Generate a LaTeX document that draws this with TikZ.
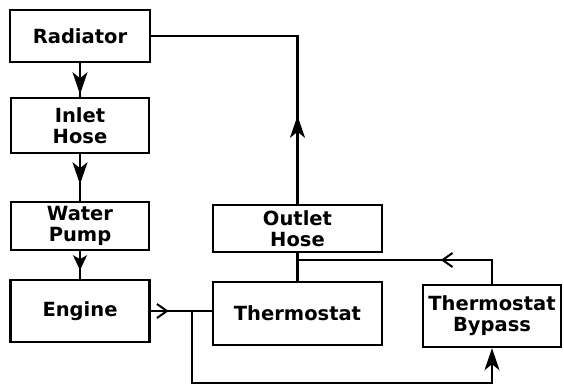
\documentclass[tikz,border=0pt]{standalone}
\usepackage{fontspec}
\setmainfont{DejaVu Sans}
\usetikzlibrary{arrows.meta,decorations.markings}
\tikzset{
  fillhead/.tip={Stealth[length=22pt,width=15pt,inset=6pt]},
  fillsmall/.tip={Stealth[length=15pt,width=14pt,inset=4pt]},
  openhead/.tip={Straight Barb[length=10pt,width=14pt,line width=2pt]}
}
\begin{document}
\begin{tikzpicture}[x=1pt,y=-1pt,
  box/.style={draw, line width=2.4pt, align=center, inner sep=0pt,
    font=\bfseries\fontsize{19.5}{21}\selectfont},
  conn/.style={line width=2.2pt},
  midfill/.style={postaction={decorate},decoration={markings,
    mark=at position #1 with {\arrow{fillhead}}}},
  midsmall/.style={postaction={decorate},decoration={markings,
    mark=at position #1 with {\arrow{fillsmall}}}},
  midopen/.style={postaction={decorate},decoration={markings,
    mark=at position #1 with {\arrow{openhead}}}}
]
\useasboundingbox (0,0) rectangle (564,390);
\node[box, minimum width=140pt, minimum height=52pt] (rad) at (80,36) {Radiator};
\node[box, minimum width=138pt, minimum height=55pt] (inlet) at (80,125.5) {Inlet\\Hose};
\node[box, minimum width=138pt, minimum height=48pt] (pump) at (80,226) {Water\\Pump};
\node[box, minimum width=139pt, minimum height=62pt] (engine) at (80,311) {Engine};
\node[box, minimum width=169pt, minimum height=47pt] (outlet) at (297.5,228.5) {Outlet\\Hose};
\node[box, minimum width=169pt, minimum height=63pt] (thermo) at (297.5,313.5) {Thermostat};
\node[box, minimum width=138pt, minimum height=62pt] (bypass) at (492,316) {Thermostat\\Bypass};
\coordinate (j1) at (192,311);
\coordinate (j2) at (297.5,260);
\coordinate (b1) at (192,383);
\draw[conn, midfill=31pt] (rad.south) -- (inlet.north);
\draw[conn, midfill=30pt] (inlet.south) -- (pump.north);
\draw[conn, midsmall=19pt] (pump.south) -- (engine.north);
\draw[conn, midopen=18pt] (engine.east) -- (engine.east -| thermo.west);
\draw[conn, -{fillhead}] (j1) -- (b1) -| (bypass.south);
\draw[conn] (thermo.north) -- (outlet.south);
\draw[conn, midopen=75pt] (bypass.north) |- (j2);
\draw[conn, midfill=88pt] (outlet.north) |- (rad.east);
\end{tikzpicture}
\end{document}
